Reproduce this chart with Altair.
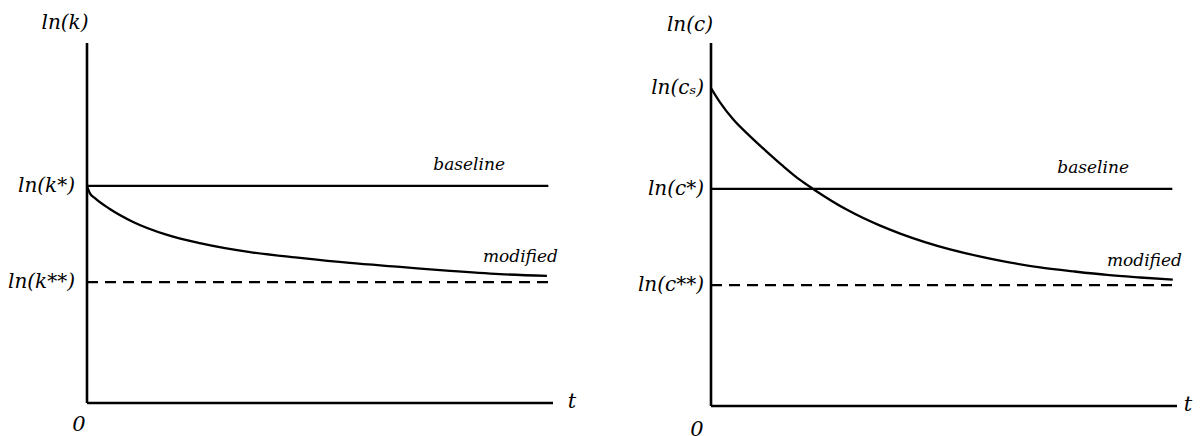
import altair as alt
import pandas as pd

# Time runs from 0 to 100 along each horizontal axis; the guide lines stop a bit short.
T_MAX = 100
T_END = 99

# Capital per worker panel (log scale units)
k_top = 10.0
ln_k_star = 6.03
ln_k_new = 3.36
k_t = [0, 0.6, 1.7, 4.9, 9.9, 17.2, 24.2, 35.0, 45.7, 56.4, 67.2, 77.9, 88.6, 98.7]
k_modified = [6.03, 5.83, 5.69, 5.39, 5.03, 4.67, 4.44, 4.19, 4.03, 3.89, 3.78, 3.67, 3.58, 3.53]

# Consumption per worker panel (log scale units)
c_top = 10.08
ln_c_s = 8.83
ln_c_star = 6.03
ln_c_new = 3.36
c_t = [0, 1.9, 4.7, 8.4, 12.0, 15.5, 19.1, 21.9, 29.2, 36.3, 40.6, 51.3, 62.0, 70.6, 77.7, 85.0, 92.1, 99.1]
c_modified = [8.83, 8.44, 7.97, 7.49, 7.06, 6.66, 6.28, 6.03, 5.45, 5.01, 4.79, 4.35, 4.04, 3.85, 3.74, 3.64, 3.57, 3.51]

k_ticks = [ln_k_star, ln_k_new]
k_tick_labels = ["ln(k*)", "ln(k**)"]
c_ticks = [ln_c_s, ln_c_star, ln_c_new]
c_tick_labels = ["ln(cₛ)", "ln(c*)", "ln(c**)"]

SERIF = "DejaVu Serif"
PX_PER_T = 4.66   # pixels per unit of time
PX_PER_Y = 36.0   # pixels per log unit


def panel(t, modified, star, new, top, ticks, tick_labels, title,
          width, height, origin_x, origin_y, label_dx,
          title_dx, title_dy, zero_dx, zero_dy, t_dx):
    # Each panel reserves room around its axes for the hand-placed labels,
    # so the scale domains reach past the origin on the left and below.
    x_dom = [-origin_x / PX_PER_T, (width - origin_x) / PX_PER_T]
    y_dom = [-(height - origin_y) / PX_PER_Y, origin_y / PX_PER_Y]
    xs = alt.Scale(domain=x_dom, nice=False, zero=False)
    ys = alt.Scale(domain=y_dom, nice=False, zero=False)

    def X(v):
        return alt.X(datum=v, type="quantitative", scale=xs, axis=None)

    def Y(v):
        return alt.Y(datum=v, type="quantitative", scale=ys, axis=None)

    y_axis = alt.Chart().mark_rule(color="black", strokeWidth=2.6).encode(
        x=X(0), y=Y(0), y2=alt.Y2(datum=top)
    )
    x_axis = alt.Chart().mark_rule(color="black", strokeWidth=2.6).encode(
        y=Y(0), x=X(0), x2=alt.X2(datum=T_MAX)
    )
    baseline = alt.Chart().mark_rule(color="black", strokeWidth=2.3).encode(
        y=Y(star), x=X(0), x2=alt.X2(datum=T_END)
    )
    new_level = alt.Chart().mark_rule(
        color="black", strokeWidth=2.3, strokeDash=[11, 7]
    ).encode(y=Y(new), x=X(0), x2=alt.X2(datum=T_END))

    path = pd.DataFrame({"t": t, "v": modified})
    curve = alt.Chart(path).mark_line(
        color="black", strokeWidth=2.3, interpolate="monotone"
    ).encode(
        x=alt.X("t:Q", scale=xs, axis=None),
        y=alt.Y("v:Q", scale=ys, axis=None),
    )

    tick_df = pd.DataFrame({"v": ticks, "label": tick_labels})
    tick_text = alt.Chart(tick_df).mark_text(
        align="right", baseline="middle", dx=label_dx, font=SERIF,
        fontStyle="italic", fontSize=20, color="black"
    ).encode(x=X(0), y=alt.Y("v:Q", scale=ys, axis=None), text="label:N")

    base_text = alt.Chart().mark_text(
        align="center", baseline="middle", dy=-21, font=SERIF,
        fontStyle="italic", fontSize=17, color="black", text="baseline"
    ).encode(x=X(82), y=Y(star))
    mod_text = alt.Chart().mark_text(
        align="center", baseline="middle", dy=-19, font=SERIF,
        fontStyle="italic", fontSize=17, color="black", text="modified"
    ).encode(x=X(93), y=Y(modified[-1]))

    title_text = alt.Chart().mark_text(
        align="center", baseline="middle", dx=title_dx, dy=title_dy, font=SERIF,
        fontStyle="italic", fontSize=20, color="black", text=title
    ).encode(x=X(0), y=Y(top))
    zero_text = alt.Chart().mark_text(
        align="center", baseline="middle", dx=zero_dx, dy=zero_dy, font=SERIF,
        fontStyle="italic", fontSize=21, color="black", text="0"
    ).encode(x=X(0), y=Y(0))
    t_text = alt.Chart().mark_text(
        align="center", baseline="middle", dx=t_dx, dy=-1, font=SERIF,
        fontStyle="italic", fontSize=21, color="black", text="t"
    ).encode(x=X(T_MAX), y=Y(0))

    return alt.layer(
        y_axis, x_axis, baseline, new_level, curve,
        tick_text, base_text, mod_text, title_text, zero_text, t_text
    ).properties(width=width, height=height)


left = panel(k_t, k_modified, ln_k_star, ln_k_new, k_top, k_ticks, k_tick_labels,
             "ln(k)", 600, 436, 87, 403, -12, -22, -20, -8, 22, 19)
right = panel(c_t, c_modified, ln_c_star, ln_c_new, c_top, c_ticks, c_tick_labels,
              "ln(c)", 603, 436, 111, 406, -7, -21, -18, -14, 24, 11)

chart = alt.hconcat(left, right, spacing=0, bounds="flush").properties(
    padding=0,
    background="white",
).configure_view(stroke=None)

chart.save("out.html", embed_options={"renderer": "svg", "actions": False})
